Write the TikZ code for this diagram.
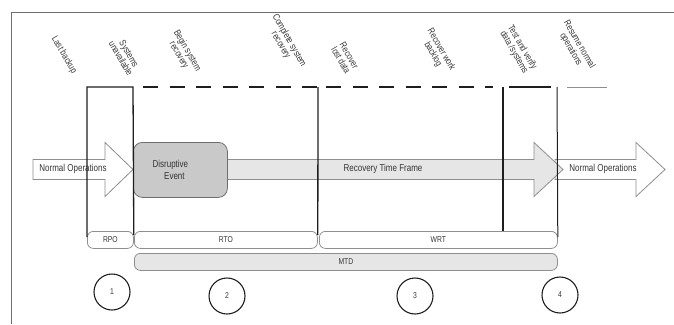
\documentclass[tikz,border=0pt]{standalone}
\usepackage{fontspec}
\setmainfont{Liberation Sans}[FakeStretch=0.8]
\usetikzlibrary{arrows.meta,positioning,calc}
\usepackage{xcolor}
\definecolor{ink}{HTML}{353535}
\definecolor{rule}{HTML}{1E1E1E}
\definecolor{edge}{HTML}{8E8E8E}
\definecolor{event}{HTML}{C9C9C9}
\definecolor{frame}{HTML}{E6E6E6}
\definecolor{border}{HTML}{6E6E6E}
\tikzset{
  every node/.style={font=\fontsize{10}{11}\selectfont,text=ink},
  milestone/.style={rotate=-60,align=center,inner sep=1pt,font=\fontsize{9.5}{9.5}\selectfont},
  marker/.style={draw=rule,line width=1.3pt},
  gapline/.style={marker,dash pattern=on 15pt off 11.5pt},
  flow/.style={draw=edge,line width=0.8pt,line join=miter},
  flowtext/.style={inner sep=0pt},
  phasebox/.style={draw=edge,line width=0.8pt,rounded corners=6pt,fill=white,minimum height=17pt,inner sep=0pt,font=\fontsize{8.5}{9}\selectfont},
  mtdbox/.style={phasebox,fill=frame},
  eventbox/.style={draw=border,line width=0.8pt,fill=event,rounded corners=9pt,minimum width=94pt,minimum height=55pt,inner sep=0pt,align=center},
  numcircle/.style={circle,draw=rule,line width=1.1pt,minimum size=36pt,inner sep=0pt,font=\fontsize{8.5}{9}\selectfont},
}
% block arrow: fill, tail x, head x, tip x
\newcommand{\flowarrow}[4]{%
  \draw[flow,fill=#1] (#2,-159.5) -- (#3,-159.5) -- (#3,-142.5) -- (#4,-169.5)
    -- (#3,-196.5) -- (#3,-179.5) -- (#2,-179.5) -- cycle;}

\begin{document}
\begin{tikzpicture}[x=1pt,y=1pt]
\useasboundingbox (0,0) rectangle (674,-324);

% page frame
\draw[draw=border,line width=0.7pt] (11,-324) -- (11,-12) -- (674,-12);

% flow arrows
\flowarrow{white}{555}{636}{665}
\flowarrow{frame}{200}{534}{563}
\flowarrow{white}{33}{105}{133}
\node[flowtext] (norm1) at (73,-169) {Normal Operations};
\node[flowtext] (rtf) at (383,-169) {Recovery Time Frame};
\node[flowtext] (norm2) at (603,-169) {Normal Operations};
\node[eventbox,anchor=north west] (event) at (133,-142) {\hspace*{-20pt}Disruptive\\[1pt]\hspace*{-12pt}Event};

% phase bars
\node[phasebox,minimum width=46pt,anchor=north west] (rpo) at (87,-231) {RPO};
\node[phasebox,minimum width=183pt,anchor=north west] (rto) at (134,-231) {RTO};
\node[phasebox,minimum width=238pt,anchor=north west] (wrt) at (319,-231) {WRT};
\node[mtdbox,minimum width=423pt,anchor=north west] (mtd) at (134,-253) {MTD};

% milestones along the top
\coordinate (m1) at (87,-87);
\coordinate (m2) at (133,-87);
\coordinate (m3) at (318,-87);
\coordinate (m4) at (503,-87);
\coordinate (m5) at (557,-87);
\draw[marker] ([yshift=-6pt]rpo.north west) -- (m1) -- (m2) -- ([yshift=-4pt]rpo.north east);
\draw[gapline] ([xshift=10pt]m2) -- (m3);
\draw[marker] (m3) -- ([yshift=-4pt]rto.north east);
\draw[gapline] ([xshift=8pt]m3) -- ([xshift=-10pt]m4);
\draw[marker] (m4) -- (m4 |- wrt.north);
\draw[marker] ([xshift=6pt]m4) -- ([xshift=-6pt]m5);
\draw[marker,line width=1pt] (m5) -- ([yshift=-6pt]wrt.north east);
\draw[draw=edge,line width=0.9pt] ([xshift=10pt]m5) -- ([xshift=50pt]m5);

\node[milestone] (l1) at (64,-55) {Last backup};
\node[milestone] (l2) at (125,-56) {Systems\\unavailable};
\node[milestone] (l3) at (183,-53) {Begin system\\recovery};
\node[milestone] (l4) at (285,-43) {Complete system\\recovery};
\node[milestone] (l5) at (345,-58) {Recover\\lost data};
\node[milestone] (l6) at (437,-52) {Recover work\\backlog};
\node[milestone] (l7) at (518,-50) {Test and verify\\data /systems};
\node[milestone] (l8) at (575,-47) {Resume normal\\operations};

% numbered stages
\node[numcircle] (c1) at (112,-292) {1};
\node[numcircle] (c2) at (227,-296) {2};
\node[numcircle] (c3) at (415,-296) {3};
\node[numcircle] (c4) at (560,-295) {4};

\end{tikzpicture}
\end{document}
